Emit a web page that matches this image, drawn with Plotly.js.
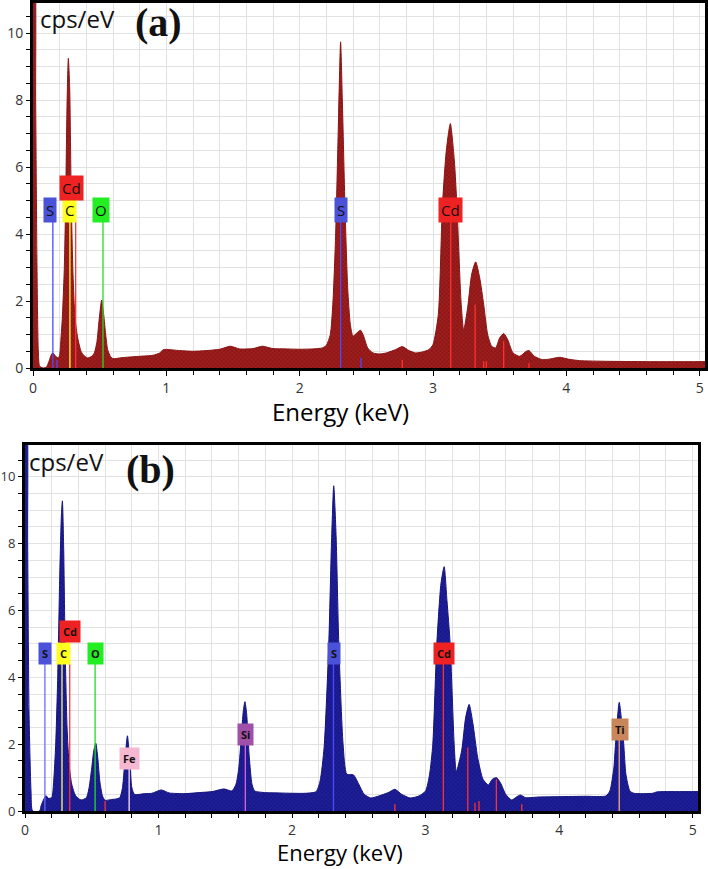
<!DOCTYPE html>
<html>
<head>
<meta charset="utf-8">
<script src="https://cdn.plot.ly/plotly-3.0.1.min.js"></script>
<style>html,body{margin:0;padding:0;background:#fff;}#chart{width:708px;height:869px;}</style>
</head>
<body>
<div id="chart"></div>
<script>
// ---- Spectrum (a) ----
const energyA = [0,0.01,0.02,0.03,0.04,0.05,0.08,0.1,0.12,0.14,0.15,0.17,0.19,0.2,0.21,0.22,0.235,0.245,0.255,0.265,0.275,0.287,0.3,0.315,0.335,0.36,0.38,0.41,0.44,0.46,0.48,0.495,0.515,0.53,0.545,0.56,0.58,0.6,0.65,0.7,0.8,0.9,0.95,0.98,1.1,1.2,1.3,1.4,1.48,1.55,1.65,1.72,1.8,1.9,2.0,2.1,2.17,2.2,2.23,2.25,2.27,2.29,2.307,2.32,2.34,2.36,2.38,2.4,2.43,2.456,2.48,2.51,2.55,2.6,2.65,2.72,2.77,2.82,2.87,2.92,2.97,3.0,3.04,3.07,3.1,3.13,3.16,3.18,3.21,3.23,3.26,3.29,3.32,3.35,3.38,3.41,3.44,3.47,3.5,3.53,3.56,3.6,3.65,3.7,3.72,3.76,3.82,3.88,3.95,4.02,4.1,4.3,4.6,5.04];
const countsA = [12,12,8,3,0.5,0.05,0,0.02,0.2,0.42,0.45,0.35,0.3,0.4,0.9,1.5,3.0,5.0,7.8,9.25,8.4,5.0,2.8,1.5,0.9,0.5,0.38,0.3,0.35,0.45,0.8,1.4,2.03,1.6,1.0,0.55,0.35,0.28,0.3,0.32,0.35,0.38,0.45,0.55,0.52,0.5,0.52,0.56,0.65,0.57,0.58,0.65,0.58,0.57,0.56,0.57,0.6,0.68,1.0,2.0,4.0,7.2,9.74,8.0,4.8,2.4,1.3,0.95,1.05,1.13,0.95,0.6,0.45,0.42,0.45,0.55,0.64,0.52,0.45,0.48,0.55,0.7,1.6,4.8,6.5,7.3,6.2,4.8,2.0,1.13,1.8,2.8,3.17,2.7,1.9,1.0,0.65,0.6,0.9,1.03,0.85,0.45,0.35,0.5,0.52,0.35,0.25,0.27,0.32,0.26,0.22,0.2,0.19,0.19];

// ---- Spectrum (b) ----
const energyB = [0,0.01,0.02,0.03,0.045,0.057,0.11,0.12,0.14,0.157,0.175,0.2,0.215,0.23,0.245,0.26,0.272,0.28,0.29,0.3,0.315,0.33,0.35,0.38,0.42,0.46,0.48,0.5,0.515,0.53,0.545,0.56,0.58,0.6,0.64,0.68,0.71,0.73,0.75,0.767,0.785,0.8,0.82,0.9,0.95,1.02,1.08,1.2,1.3,1.4,1.49,1.55,1.58,1.6,1.62,1.635,1.647,1.66,1.68,1.7,1.72,1.8,1.9,2.0,2.1,2.18,2.21,2.24,2.275,2.295,2.312,2.33,2.35,2.382,2.41,2.46,2.5,2.54,2.59,2.65,2.72,2.77,2.82,2.885,2.95,3.0,3.03,3.054,3.084,3.115,3.139,3.16,3.184,3.214,3.23,3.27,3.3,3.326,3.355,3.39,3.43,3.47,3.5,3.53,3.56,3.6,3.645,3.68,3.71,3.75,3.85,4.0,4.2,4.35,4.38,4.41,4.422,4.45,4.47,4.484,4.5,4.53,4.56,4.7,4.73,4.9,5.04];
const countsB = [12,12,8,3.0,0.6,0,0,0.15,0.35,0.46,0.38,0.4,0.9,2.0,4.0,7.0,8.8,9.28,7.8,5.0,2.5,1.4,0.8,0.45,0.33,0.4,0.7,1.3,1.8,2.03,1.6,0.9,0.45,0.32,0.34,0.36,0.4,0.7,1.6,2.25,1.5,0.7,0.5,0.52,0.53,0.63,0.54,0.52,0.55,0.58,0.66,0.6,0.8,1.25,2.2,3.0,3.27,2.9,1.6,0.8,0.6,0.55,0.54,0.53,0.53,0.58,0.9,1.9,5.0,8.0,9.73,8.2,5.0,2.0,1.1,1.08,0.8,0.5,0.39,0.45,0.55,0.65,0.5,0.39,0.45,0.6,1.1,2.0,5.0,6.8,7.31,6.3,5.0,2.0,1.18,1.8,2.8,3.19,2.6,1.6,0.95,0.78,0.95,1.0,0.85,0.5,0.33,0.42,0.48,0.4,0.42,0.43,0.44,0.45,0.6,1.3,2.0,3.25,2.6,2.0,1.1,0.6,0.53,0.53,0.57,0.58,0.58];

// ---- Element marker lines ----
const linesA_E   = [0.149,0.277,0.32,0.525,2.307,3.133,3.316,3.53,2.77,3.38,3.40,3.72,2.46,0.18];
const linesA_top = [4.4,4.4,4.4,4.4,4.4,4.4,1.9,0.8,0.25,0.2,0.2,0.15,0.3,0.25];
const linesA_col = ['#4a4aff','#ffff30','#ff3030','#22dd22','#4a4aff','#ff3030','#ff3030','#ff3030','#ff3030','#ff3030','#ff3030','#ff3030','#4a4aff','#4a4aff'];

const linesB_E   = [0.149,0.277,0.335,0.525,0.78,1.65,2.31,3.133,3.316,3.37,3.40,3.53,2.77,3.72,0.6,4.45];
const linesB_top = [4.4,4.4,4.4,4.4,1.3,2.05,4.4,4.4,1.9,0.25,0.3,0.95,0.2,0.2,0.3,2.2];
const linesB_col = ['#6a6aff','#ffff60','#ff3030','#22dd22','#ffe0f0','#e060e0','#4a4aff','#ff3030','#ff3030','#ff3030','#ff3030','#ff3030','#ff3030','#ff3030','#ff3030','#f0b080'];

// ---- Element labels ----
const labelsA_text = ['S','C','Cd','O','S','Cd'];
const labelsA_E    = [0.13,0.277,0.29,0.507,2.31,3.13];
const labelsA_Y    = [4.72,4.72,5.37,4.72,4.72,4.72];
const labelsA_bg   = ['#4b52d8','#ffff22','#ee2222','#22ee22','#4b52d8','#ee2222'];

const labelsB_text = ['S','C','Cd','O','Fe','Si','S','Cd','Ti'];
const labelsB_E    = [0.15,0.288,0.34,0.53,0.78,1.65,2.317,3.14,4.457];
const labelsB_Y    = [4.71,4.71,5.36,4.71,1.56,2.3,4.71,4.71,2.45];
const labelsB_bg   = ['#4b52d8','#ffff22','#ee2222','#22ee22','#f6b8d0','#a050a8','#4b52d8','#ee2222','#c8865a'];

const xTicks = [0,1,2,3,4,5];
const yTicks = [0,2,4,6,8,10];

const traces = [];
traces.push({
  x: energyA, y: countsA, xaxis:'x', yaxis:'y', type:'scatter', mode:'lines',
  line:{color:'#8a1414', width:1, shape:'spline', smoothing:0.6},
  fill:'tozeroy', fillcolor:'#9c1c1c',
  fillpattern:{shape:'x', bgcolor:'#9e1d1d', fgcolor:'#6e0f0f', size:3, solidity:0.25, fillmode:'replace'},
  hoverinfo:'skip', showlegend:false
});
traces.push({
  x: energyB, y: countsB, xaxis:'x2', yaxis:'y2', type:'scatter', mode:'lines',
  line:{color:'#14147e', width:1, shape:'spline', smoothing:0.6},
  fill:'tozeroy', fillcolor:'#1c1c96',
  fillpattern:{shape:'x', bgcolor:'#1e1e9a', fgcolor:'#0e0e66', size:3, solidity:0.25, fillmode:'replace'},
  hoverinfo:'skip', showlegend:false
});
linesA_E.forEach((e,i)=>traces.push({x:[e,e], y:[0,linesA_top[i]], xaxis:'x', yaxis:'y', mode:'lines',
  line:{color:linesA_col[i], width:1.3}, hoverinfo:'skip', showlegend:false}));
linesB_E.forEach((e,i)=>traces.push({x:[e,e], y:[0,linesB_top[i]], xaxis:'x2', yaxis:'y2', mode:'lines',
  line:{color:linesB_col[i], width:1.3}, hoverinfo:'skip', showlegend:false}));

const annotations = [];
labelsA_text.forEach((t,i)=>annotations.push({xref:'x', yref:'y', x:labelsA_E[i], y:labelsA_Y[i],
  text:t, showarrow:false, bgcolor:labelsA_bg[i], borderpad:2, xanchor:'center', yanchor:'middle',
  font:{family:'Open Sans, sans-serif', size:15, color:'#111'}}));
labelsB_text.forEach((t,i)=>annotations.push({xref:'x2', yref:'y2', x:labelsB_E[i], y:labelsB_Y[i],
  text:'<b>'+t+'</b>', showarrow:false, bgcolor:labelsB_bg[i], borderpad:3, xanchor:'center', yanchor:'middle',
  font:{family:'Open Sans, sans-serif', size:11, color:'#111'}}));
// axis titles & panel labels
annotations.push({xref:'paper', yref:'paper', x:340/708, y:1-411/869, text:'Energy (keV)', showarrow:false,
  xanchor:'center', yanchor:'middle', font:{family:'Open Sans, sans-serif', size:24, color:'#000'}});
annotations.push({xref:'paper', yref:'paper', x:340/708, y:0, text:'Energy (keV)', showarrow:false,
  xanchor:'center', yanchor:'bottom', font:{family:'Open Sans, sans-serif', size:22, color:'#000'}});
annotations.push({xref:'paper', yref:'paper', x:38/708, y:1-19/869, text:'cps/eV', showarrow:false,
  xanchor:'left', yanchor:'middle', font:{family:'Open Sans, sans-serif', size:24, color:'#111'}});
annotations.push({xref:'paper', yref:'paper', x:158/708, y:1-22/869, text:'<b>(a)</b>', showarrow:false,
  xanchor:'center', yanchor:'middle', font:{family:'Liberation Serif, serif', size:40, color:'#111'}});
annotations.push({xref:'paper', yref:'paper', x:27/708, y:1-462/869, text:'cps/eV', showarrow:false,
  xanchor:'left', yanchor:'middle', font:{family:'Open Sans, sans-serif', size:24, color:'#111'}});
annotations.push({xref:'paper', yref:'paper', x:150/708, y:1-470/869, text:'<b>(b)</b>', showarrow:false,
  xanchor:'center', yanchor:'middle', font:{family:'Liberation Serif, serif', size:40, color:'#111'}});

const gridC = '#e2e2e2';
function xax(domain){
  return {domain:domain, range:[0,5.04], tickvals:xTicks, ticktext:xTicks.map(String),
    ticks:'outside', ticklen:5, tickcolor:'#000', showgrid:true, gridcolor:gridC, gridwidth:1,
    minor:{dtick:0.2, tick0:0, ticks:'outside', ticklen:4, tickcolor:'#000', showgrid:true, gridcolor:gridC},
    showline:true, linecolor:'#000', linewidth:3, mirror:true, zeroline:false,
    tickfont:{family:'Open Sans, sans-serif', size:14, color:'#333'}, fixedrange:true};
}
function yax(domain, anchor, top){
  return {domain:domain, anchor:anchor, range:[0,top], tickvals:yTicks, ticktext:yTicks.map(String),
    ticks:'outside', ticklen:4, tickcolor:'#000', showgrid:true, gridcolor:gridC, gridwidth:1,
    minor:{dtick:0.5, tick0:0, ticks:'outside', ticklen:4, tickcolor:'#000', showgrid:true, gridcolor:gridC},
    showline:true, linecolor:'#000', linewidth:3, mirror:true, zeroline:false,
    tickfont:{family:'Open Sans, sans-serif', size:14, color:'#333'}, fixedrange:true};
}
const layout = {
  width:708, height:869, margin:{l:0,r:0,t:0,b:0}, paper_bgcolor:'#fff', plot_bgcolor:'#fff',
  showlegend:false,
  xaxis: Object.assign(xax([33/708, 705/708]), {anchor:'y'}),
  yaxis: yax([1-368/869, 1-3/869], 'x', 10.9),
  xaxis2: Object.assign(xax([25/708, 698/708]), {anchor:'y2', ticklen:4}),
  yaxis2: Object.assign(yax([1-811/869, 1-445/869], 'x2', 10.95), {tickfont:{family:'Open Sans, sans-serif', size:13, color:'#333'}}),
  annotations: annotations
};
Plotly.newPlot('chart', traces, layout, {staticPlot:true, displayModeBar:false});
</script>
</body>
</html>
